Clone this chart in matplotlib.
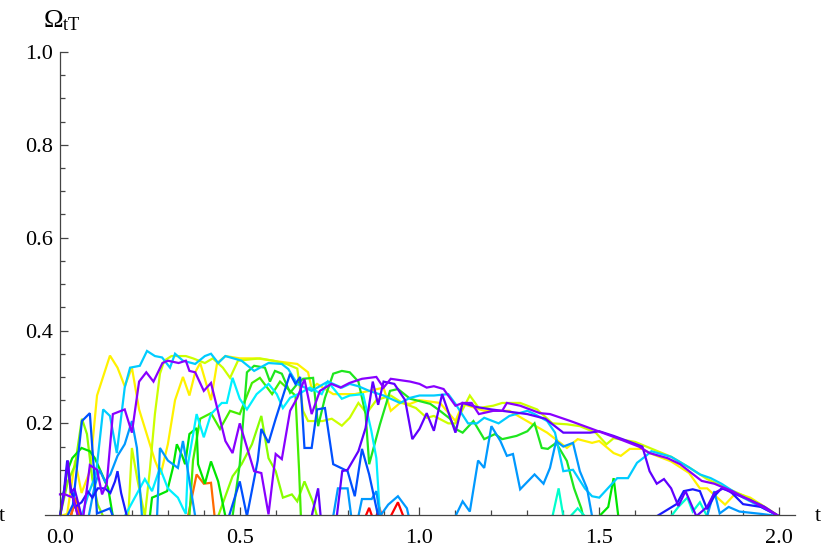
import numpy as np
import matplotlib
matplotlib.use("Agg")
import matplotlib.pyplot as plt
from matplotlib.ticker import MultipleLocator, FixedLocator, FormatStrFormatter

plt.rcParams['font.family'] = ['Liberation Serif', 'DejaVu Serif']
plt.rcParams['mathtext.fontset'] = 'custom'
plt.rcParams['mathtext.rm'] = 'Liberation Serif'
plt.rcParams['mathtext.it'] = 'Liberation Serif:italic'

# ---- data (t, Omega_tT) ----
red_t = [0.03, 0.04, 0.05, 0.85, 0.86, 0.868, 0.88, 0.888, 0.895, 0.92, 0.94, 0.955]
red_v = [0, 0.03, 0, 0, 0.018, 0, 0, 0.02, 0, 0, 0.03, 0]

orange_t = [0.03, 0.045, 0.055, 0.356, 0.38, 0.40, 0.42, 0.43]
orange_v = [0, 0.04, 0, 0, 0.09, 0.07, 0.072, 0]

yellow_t = [0.00, 0.02, 0.042, 0.06, 0.083, 0.103, 0.139, 0.16, 0.18, 0.20, 0.22, 0.24, 0.264, 0.28,
            0.30, 0.32, 0.342, 0.36, 0.376, 0.39, 0.42, 0.437, 0.46, 0.50, 0.548, 0.61, 0.66, 0.69,
            0.70, 0.715, 0.76, 0.82, 0.90, 0.92, 0.946, 0.974, 1.0, 1.057, 1.10, 1.12, 1.18, 1.25,
            1.31, 1.355, 1.41, 1.44, 1.48, 1.50, 1.54, 1.56, 1.585, 1.62, 1.64, 1.70, 1.75, 1.78,
            1.80, 1.85, 1.88, 1.92, 1.96, 2.0]
yellow_v = [0, 0.005, 0.12, 0.05, 0.097, 0.26, 0.346, 0.32, 0.28, 0.32, 0.23, 0.18, 0.12, 0.09,
            0.155, 0.25, 0.30, 0.26, 0.31, 0.33, 0.25, 0.33, 0.345, 0.34, 0.34, 0.333, 0.328, 0.31,
            0.275, 0.285, 0.263, 0.263, 0.277, 0.227, 0.244, 0.242, 0.25, 0.244, 0.205, 0.242, 0.227,
            0.227, 0.20, 0.18, 0.147, 0.166, 0.158, 0.162, 0.136, 0.13, 0.145, 0.145, 0.136, 0.118,
            0.093, 0.06, 0.06, 0.025, 0.05, 0.04, 0.02, 0]

lime1_t = [0.19, 0.20, 0.215, 0.236, 0.25, 0.264, 0.278, 0.29, 0.31, 0.35, 0.37, 0.403, 0.425, 0.453,
           0.473, 0.495, 0.556, 0.593, 0.63, 0.66, 0.676, 0.69, 0.704, 0.73, 0.756, 0.784, 0.806,
           0.83, 0.853, 0.88, 0.92, 0.95, 0.99, 1.02, 1.04, 1.08, 1.10, 1.14, 1.165, 1.205, 1.23,
           1.28, 1.327, 1.37, 1.41, 1.446, 1.49, 1.52, 1.54, 1.60, 1.70, 1.75, 1.80, 1.85, 1.90,
           1.95, 2.0]
lime1_v = [0, 0.147, 0.08, 0, 0.10, 0.22, 0.307, 0.335, 0.345, 0.345, 0.34, 0.33, 0.34, 0.32,
           0.298, 0.335, 0.34, 0.335, 0.328, 0.318, 0.227, 0.205, 0.205, 0.205, 0.21, 0.195, 0.212,
           0.244, 0.222, 0.25, 0.26, 0.245, 0.233, 0.212, 0.216, 0.2, 0.2, 0.26, 0.233, 0.238, 0.244,
           0.244, 0.23, 0.2, 0.198, 0.194, 0.18, 0.155, 0.168, 0.16, 0.128, 0.105, 0.08, 0.062,
           0.045, 0.025, 0]

lime2_t = [0.0, 0.022, 0.042, 0.061, 0.075, 0.09, 0.105, 0.12, 0.44, 0.48, 0.505, 0.534, 0.56, 0.58,
           0.60, 0.62, 0.645, 0.66, 0.68, 0.704, 0.715]
lime2_v = [0, 0.075, 0.11, 0.21, 0.177, 0.08, 0.025, 0, 0, 0.086, 0.112, 0.155, 0.216, 0.125,
           0.097, 0.04, 0.047, 0.032, 0.075, 0.03, 0]

green3_t = [0.36, 0.37, 0.39, 0.42, 0.445, 0.473, 0.50, 0.534, 0.556, 0.59, 0.612, 0.64, 0.655,
            0.665, 0.67]
green3_v = [0, 0.12, 0.21, 0.222, 0.188, 0.227, 0.22, 0.287, 0.298, 0.263, 0.29, 0.27, 0.26, 0.1, 0]

green2_t = [0.0, 0.02, 0.034, 0.06, 0.083, 0.097, 0.117, 0.134, 0.147, 0.25, 0.256, 0.278, 0.298,
            0.314, 0.325, 0.34, 0.348, 0.36, 0.38, 0.384, 0.403, 0.42, 0.44, 0.46, 1.50, 1.525,
            1.54, 1.553]
green2_v = [0, 0.097, 0.125, 0.147, 0.14, 0.125, 0.09, 0.06, 0, 0, 0.04, 0.047, 0.054, 0.104,
            0.155, 0.13, 0.112, 0.177, 0.19, 0.112, 0.07, 0.118, 0.075, 0, 0, 0.02, 0.082, 0]

green1_t = [0.48, 0.50, 0.52, 0.54, 0.57, 0.584, 0.598, 0.617, 0.64, 0.66, 0.676, 0.704, 0.718,
            0.737, 0.76, 0.784, 0.806, 0.83, 0.85, 0.86, 0.89, 0.918, 0.94, 0.974, 1.0, 1.03, 1.057,
            1.085, 1.10, 1.12, 1.15, 1.18, 1.21, 1.23, 1.27, 1.30, 1.32, 1.34, 1.357, 1.38, 1.41,
            1.43, 1.45, 1.455]
green1_v = [0, 0.112, 0.31, 0.324, 0.32, 0.29, 0.313, 0.307, 0.266, 0.285, 0.296, 0.298, 0.194,
            0.255, 0.307, 0.313, 0.31, 0.29, 0.22, 0.112, 0.198, 0.27, 0.274, 0.253, 0.248, 0.242,
            0.227, 0.21, 0.188, 0.18, 0.205, 0.166, 0.177, 0.166, 0.173, 0.183, 0.2, 0.147, 0.145,
            0.158, 0.119, 0.06, 0.017, 0]

aqua_t = [1.37, 1.387, 1.40, 1.42, 1.44, 1.46, 1.70, 1.72, 1.745, 1.76, 1.78, 1.80]
aqua_v = [0, 0.06, 0, 0, 0.017, 0, 0, 0.02, 0.04, 0.01, 0.03, 0]

cyan1_t = [0.18, 0.236, 0.256, 0.278, 0.30, 0.328, 0.342, 0.35, 0.356, 0.38, 0.40, 0.42, 0.45,
           0.464, 0.48, 0.50, 0.52, 0.547, 0.58, 0.603, 0.62, 0.64, 0.668, 0.695, 0.728, 0.745,
           0.784, 0.806, 0.843, 0.866, 0.88, 0.89]
cyan1_v = [0, 0.08, 0.054, 0.104, 0.06, 0.04, 0.017, 0.005, 0.112, 0.22, 0.17, 0.22, 0.244,
           0.244, 0.298, 0.253, 0.23, 0.263, 0.285, 0.263, 0.233, 0.255, 0.265, 0.277, 0.263, 0.29,
           0.253, 0.26, 0.263, 0.184, 0.125, 0]

cyan2_t = [0.06, 0.08, 0.10, 0.12, 0.139, 0.158, 0.18, 0.195, 0.222, 0.242, 0.264, 0.284, 0.306,
           0.32, 0.342, 0.376, 0.403, 0.42, 0.44, 0.46, 0.505, 0.54, 0.58, 0.617, 0.635, 0.66, 0.70,
           0.745, 0.784, 0.806, 0.83, 0.86, 0.90, 0.946, 0.974, 1.0, 1.04, 1.08, 1.10, 1.135, 1.16,
           1.18, 1.22, 1.25, 1.30, 1.32, 1.355, 1.377, 1.40, 1.427, 1.46, 1.48, 1.50, 1.55, 1.58,
           1.605, 1.63, 1.645, 1.70, 1.75, 1.78, 1.81, 1.84, 1.87, 1.90, 1.95, 2.0]
cyan2_v = [0, 0.05, 0.09, 0.23, 0.216, 0.136, 0.277, 0.32, 0.324, 0.356, 0.345, 0.342, 0.32,
           0.35, 0.335, 0.328, 0.345, 0.35, 0.33, 0.345, 0.335, 0.313, 0.33, 0.328, 0.317, 0.285,
           0.27, 0.29, 0.277, 0.285, 0.28, 0.27, 0.26, 0.244, 0.255, 0.26, 0.26, 0.263, 0.242, 0.2,
           0.2, 0.212, 0.2, 0.216, 0.227, 0.22, 0.205, 0.18, 0.097, 0.1, 0.06, 0.043, 0.04, 0.082,
           0.082, 0.115, 0.13, 0.14, 0.128, 0.105, 0.09, 0.082, 0.07, 0.055, 0.04, 0.02, 0]

sky_t = [0.08, 0.095, 0.11, 0.125, 0.14, 0.16, 0.18, 0.20, 0.214, 0.228, 0.27, 0.278, 0.30, 0.328,
         0.342, 0.348, 0.376, 0.76, 0.773, 0.80, 0.81, 0.83, 0.84, 0.867, 0.88, 0.89, 0.913, 0.94,
         0.965, 0.97, 1.10, 1.12, 1.14, 1.163, 1.18, 1.20, 1.225, 1.243, 1.26, 1.28, 1.32, 1.345,
         1.363, 1.38, 1.40, 1.427, 1.446, 1.466, 1.48, 1.80, 1.82, 1.835, 1.86, 1.89, 1.95, 2.0]
sky_v = [0, 0.06, 0.1, 0.075, 0.09, 0.13, 0.155, 0.205, 0.147, 0, 0, 0.147, 0.12, 0.104,
         0.162, 0.134, 0, 0, 0.06, 0.06, 0, 0, 0.037, 0.037, 0.054, 0, 0.025, 0.043,
         0.017, 0, 0, 0.032, 0.01, 0.12, 0.104, 0.194, 0.162, 0.13, 0.134, 0.058, 0.09, 0.07,
         0.104, 0.162, 0.15, 0.158, 0.097, 0.06, 0, 0, 0.054, 0.006, 0.02, 0.01, 0.005, 0]

blue_t = [0.02, 0.036, 0.061, 0.083, 0.103, 0.117, 0.139, 0.147, 0.47, 0.50, 0.52, 0.55, 0.56,
          0.58, 0.60, 0.64, 0.655, 0.668, 0.68, 0.70, 0.715, 0.737, 0.76, 0.80, 0.82, 0.84, 0.86,
          0.885]
blue_v = [0, 0.025, 0.205, 0.222, 0.006, 0.01, 0.017, 0, 0, 0.075, 0, 0.12, 0.188,
          0.158, 0.21, 0.307, 0.285, 0.3, 0.147, 0.147, 0.23, 0.233, 0.112, 0.097, 0.043, 0.145,
          0.09, 0]

dblue_t = [0.0, 0.012, 0.02, 0.03, 0.042, 0.06, 0.078, 0.09, 0.105, 0.125, 0.14, 0.153, 0.16,
           0.17, 0.186, 1.66, 1.715, 1.735, 1.76, 1.78, 1.80, 1.82, 1.84, 1.864, 1.90, 1.95, 2.0]
dblue_v = [0, 0.06, 0.12, 0.06, 0.02, 0.03, 0.053, 0.04, 0.06, 0.06, 0.05, 0.075, 0.097,
           0.05, 0, 0, 0.026, 0.054, 0.058, 0.054, 0.015, 0.043, 0.06, 0.054, 0.026, 0.02, 0]

indigo_t = [0.0, 0.01, 0.022, 0.03, 0.04, 0.05, 0.06, 0.70, 0.718, 0.725, 0.77, 0.785, 0.80, 0.83,
            0.85, 0.87, 0.885, 0.90, 0.93, 0.96, 0.98, 1.0, 1.02, 1.04, 1.063, 1.10, 1.12, 1.16,
            1.2, 1.25, 1.30, 1.35, 1.40, 1.475, 1.50, 1.54, 1.62, 1.64, 1.66, 1.68, 1.70, 1.72,
            1.74, 1.77, 1.80, 1.82, 1.845, 1.87, 1.92, 1.96, 2.0]
indigo_v = [0, 0.04, 0.12, 0.05, 0.06, 0.03, 0, 0, 0.06, 0, 0, 0.097, 0.10, 0.14,
            0.19, 0.29, 0.24, 0.29, 0.285, 0.25, 0.166, 0.188, 0.222, 0.184, 0.263, 0.18, 0.244,
            0.235, 0.23, 0.225, 0.22, 0.21, 0.18, 0.18, 0.183, 0.173, 0.15, 0.097, 0.07, 0.08, 0.06,
            0.022, 0.054, 0, 0.02, 0.05, 0.06, 0.05, 0.035, 0.02, 0]

violet_t = [0.0, 0.014, 0.036, 0.05, 0.065, 0.083, 0.103, 0.117, 0.13, 0.147, 0.18, 0.20, 0.22,
            0.24, 0.26, 0.285, 0.30, 0.33, 0.35, 0.36, 0.376, 0.40, 0.42, 0.46, 0.48, 0.50, 0.54,
            0.56, 0.58, 0.60, 0.617, 0.64, 0.66, 0.68, 0.70, 0.723, 0.755, 0.78, 0.805, 0.84, 0.88,
            0.90, 0.92, 0.974, 1.0, 1.02, 1.04, 1.067, 1.10, 1.12, 1.145, 1.165, 1.205, 1.23, 1.243,
            1.28, 1.335, 1.363, 1.42, 1.48, 1.55, 1.61, 1.64, 1.69, 1.725, 1.75, 1.785, 1.82, 1.87,
            1.94, 2.0]
violet_v = [0.047, 0.047, 0.04, 0.0, 0.0, 0.11, 0.10, 0.047, 0.07, 0.22, 0.23, 0.18, 0.29,
            0.31, 0.29, 0.33, 0.335, 0.33, 0.335, 0.313, 0.31, 0.27, 0.287, 0.162, 0.136, 0.20,
            0.097, 0.093, 0.004, 0.134, 0.123, 0.227, 0.255, 0.295, 0.22, 0.27, 0.285, 0.277, 0.287,
            0.296, 0.30, 0.277, 0.296, 0.29, 0.285, 0.277, 0.28, 0.274, 0.238, 0.244, 0.244, 0.22,
            0.227, 0.227, 0.244, 0.238, 0.222, 0.22, 0.205, 0.188, 0.168, 0.15, 0.136, 0.125, 0.112,
            0.097, 0.076, 0.07, 0.054, 0.026, 0]

# drawn in hue order, violet last (on top)
series = [
    (red_t, red_v, '#ff0000'),
    (orange_t, orange_v, '#ff6a00'),
    (yellow_t, yellow_v, '#fff200'),
    (lime1_t, lime1_v, '#ccff00'),
    (lime2_t, lime2_v, '#88ff00'),
    (green3_t, green3_v, '#44ee00'),
    (green2_t, green2_v, '#00e600'),
    (green1_t, green1_v, '#1ee61e'),
    (aqua_t, aqua_v, '#00ffcc'),
    (cyan1_t, cyan1_v, '#00f0ff'),
    (cyan2_t, cyan2_v, '#00ccff'),
    (sky_t, sky_v, '#0099ff'),
    (blue_t, blue_v, '#0050ff'),
    (dblue_t, dblue_v, '#1a1aff'),
    (indigo_t, indigo_v, '#6000ff'),
    (violet_t, violet_v, '#8800ff'),
]

fig = plt.figure(figsize=(8.25, 5.5), dpi=100)
ax = fig.add_axes([45 / 825, 35 / 550, 750 / 825, 463 / 550])

for t, v, c in series:
    ax.plot(t, v, color=c, lw=1.6, solid_joinstyle='miter')

ax.set_xlim(-15 / 359.5, 2 + 16 / 359.5)
# bottom a hair above zero so that stretches lying on zero hide under the axis
ax.set_ylim(0.0026, 1)

axis_col = '#444444'
ax.spines['top'].set_visible(False)
ax.spines['right'].set_visible(False)
ax.spines['left'].set_position(('data', 0))
for s in ('left', 'bottom'):
    ax.spines[s].set_color(axis_col)
    ax.spines[s].set_linewidth(0.9)

ax.xaxis.set_major_locator(MultipleLocator(0.5))
ax.xaxis.set_minor_locator(MultipleLocator(0.1))
ax.yaxis.set_major_locator(FixedLocator([0.2, 0.4, 0.6, 0.8, 1.0]))
ax.yaxis.set_minor_locator(MultipleLocator(0.05))
ax.xaxis.set_major_formatter(FormatStrFormatter('%.1f'))
ax.yaxis.set_major_formatter(FormatStrFormatter('%.1f'))

ax.tick_params(which='both', direction='in', color=axis_col, width=0.9, labelsize=16)
ax.tick_params(which='major', length=6)
ax.tick_params(which='minor', length=3.6)
ax.tick_params(axis='x', pad=10)
ax.tick_params(axis='y', pad=5)

fig.text(43 / 825, 1 - 27 / 550, r'$\Omega_{\mathrm{tT}}$', fontsize=19, ha='left', va='baseline')
fig.text(818 / 825, 1 - 521 / 550, 't', fontsize=16, ha='center', va='baseline')
fig.text(2 / 825, 1 - 521 / 550, 't', fontsize=16, ha='center', va='baseline')

fig.savefig('out.png', dpi=100)
